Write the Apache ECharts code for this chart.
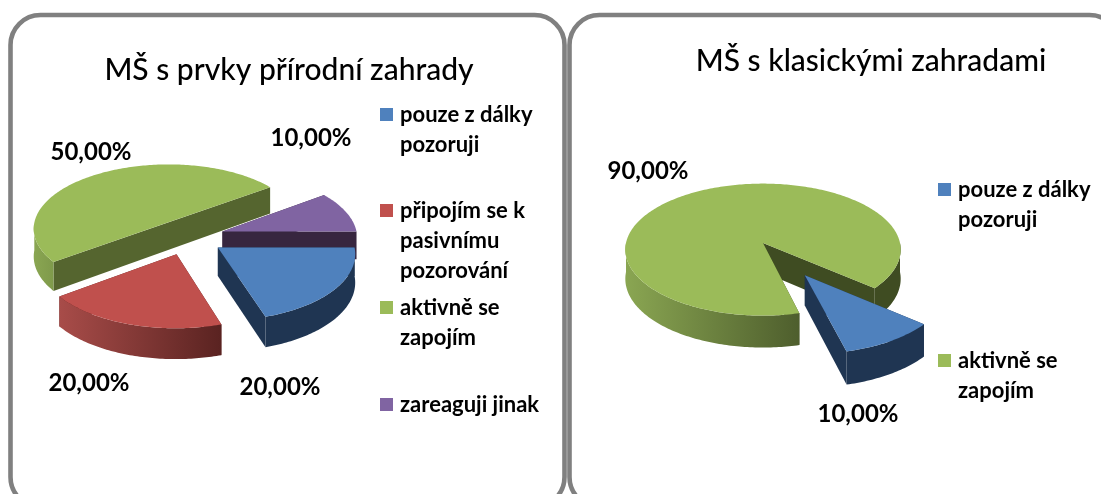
<!DOCTYPE html>
<html>
<head>
<meta charset="utf-8">
<title>MŠ</title>
<style>
  html, body { margin: 0; padding: 0; background: #fff; }
  #chart { width: 1101px; height: 494px; }
</style>
<script src="https://cdn.jsdelivr.net/npm/echarts@6/dist/echarts.min.js"></script>
</head>
<body>
<div id="chart"></div>
<script>
// data
const leftTitle = 'MŠ s prvky přírodní zahrady'
const rightTitle = 'MŠ s klasickými zahradami'
const leftNames = ['pouze z dálky\npozoruji', 'připojím se k\npasivnímu\npozorování', 'aktivně se\nzapojím', 'zareaguji jinak']
const rightNames = ['pouze z dálky\npozoruji', 'aktivně se\nzapojím']
const leftValues = [20, 20, 50, 10]
const rightValues = [10, 90]

// colours per category: top, radial wall, outer wall left end, outer wall right end
const leftColors = [
  ['#4f81bd', '#1f3552', '#1f3552', '#1f3552'],
  ['#c0504d', '#5a2220', '#a84c49', '#5a2321'],
  ['#9bbb59', '#55652f', '#8aa652', '#7f9a4b'],
  ['#8064a2', '#37263f', '#37263f', '#37263f']
]
const rightColors = [
  ['#4f81bd', '#1f3552', '#1f3552', '#1f3552'],
  ['#9bbb59', '#3f4c22', '#8aa652', '#4e5e2d']
]

// layout of the two pies; start is the clockwise angle from 3 o'clock
const leftPie = { cx: 188, cy: 237, rx: 135, ry: 66, depth: 28, start: 0, perspective: 0.08, explode: [0.27, 0.27, 0.27, 0.27], paint: [3, 2, 0, 1],
  labels: [[280, 387], [89, 383], [91, 152], [311, 138]] }
const rightPie = { cx: 763, cy: 243, rx: 137, ry: 66, depth: 29, start: 40, perspective: 0.1, explode: [0.55, 0], paint: [1, 0],
  labels: [[858, 414], [648, 171]] }

const fontFamily = 'Lato, "Noto Sans", sans-serif'
const chart = echarts.init(document.getElementById('chart'))

function pieSeries(pie, values, colors) {
  const total = values.reduce((a, b) => a + b, 0)
  const starts = []
  let run = pie.start
  values.forEach(v => {
    starts.push(run)
    run += v / total * 360
  })

  return {
    type: 'custom',
    coordinateSystem: 'none',
    silent: true,
    data: values.map((v, i) => [v, i]),
    renderItem(params, api) {
      const i = api.value(1)
      const a = starts[i]
      const b = a + api.value(0) / total * 360
      const mid = (a + b) / 2 * Math.PI / 180
      const du = Math.cos(mid) * pie.explode[i]
      const dv = Math.sin(mid) * pie.explode[i]
      const col = colors[i]
      const z = pie.paint[i] * 10

      // ground point -> screen, nearer things a bit bigger
      const project = (u, v, down) => {
        const s = 1 + pie.perspective * v
        return [pie.cx + u * pie.rx * s, pie.cy + v * pie.ry * s + (down ? pie.depth * s : 0)]
      }
      const rim = (deg, down) => {
        const t = deg * Math.PI / 180
        return project(Math.cos(t) + du, Math.sin(t) + dv, down)
      }
      const apex = down => project(du, dv, down)
      const poly = (points, fill, z2) => ({ type: 'polygon', z2, shape: { points }, style: { fill } })

      const children = []
      // radial walls, a half pie gets one straight wall so no seam shows at the apex
      if (Math.abs(b - a - 180) < 0.5) {
        children.push(poly([rim(a, false), rim(b, false), rim(b, true), rim(a, true)], col[1], z + 1))
      } else {
        ;[a, b].forEach(deg => {
          children.push(poly([apex(false), rim(deg, false), rim(deg, true), apex(true)], col[1], z + 1))
        })
      }
      // outer wall, only the parts facing us
      let top = []
      const flush = () => {
        if (top.length > 1) {
          const first = top[0]
          const pts = top.map(d => rim(d, false)).concat(top.slice().reverse().map(d => rim(d, true)))
          const behindNotch = first % 360 < 1 && i === 1 && values.length === 2
          const fill = behindNotch ? col[1] : new echarts.graphic.LinearGradient(0, 0, 1, 0, [
            { offset: 0, color: col[2] },
            { offset: 1, color: col[3] }
          ])
          children.push(poly(pts, fill, z + 2))
        }
        top = []
      }
      for (let d = a; d <= b + 0.01; d += 1) {
        if (Math.sin(d * Math.PI / 180) >= -0.001) top.push(d)
        else flush()
      }
      flush()
      // top face
      const face = [apex(false)]
      for (let d = a; d <= b + 0.01; d += 1) face.push(rim(d, false))
      face.push(rim(b, false))
      children.push(poly(face, col[0], z + 3))
      // value label
      const pct = (api.value(0) / total * 100).toFixed(2).replace('.', ',') + '%'
      children.push({
        type: 'text',
        z2: 100,
        style: {
          text: pct,
          x: pie.labels[i][0],
          y: pie.labels[i][1],
          align: 'center',
          verticalAlign: 'middle',
          fill: '#000',
          font: 'bold 24px ' + fontFamily
        }
      })
      return { type: 'group', children }
    }
  }
}

function legendItems(names, colors, x, tops) {
  const items = []
  names.forEach((name, i) => {
    items.push({ type: 'rect', left: x, top: tops[i], shape: { width: 13, height: 13 }, style: { fill: colors[i][0] } })
    items.push({
      type: 'text',
      left: x + 20,
      top: tops[i] - 8,
      style: { text: name, fill: '#000', font: 'bold 22px ' + fontFamily, lineHeight: 30 }
    })
  })
  return items
}

function panel(x, w) {
  return {
    type: 'rect',
    shape: { x, y: 15, width: w, height: 492, r: 30 },
    style: { fill: 'transparent', stroke: '#808080', lineWidth: 4.6 },
    silent: true
  }
}

chart.setOption({
  backgroundColor: '#fff',
  animation: false,
  title: [
    { text: leftTitle, left: 284, top: 50, textAlign: 'center', textStyle: { fontFamily, fontSize: 30, fontWeight: 500, color: '#000' } },
    { text: rightTitle, left: 866, top: 41, textAlign: 'center', textStyle: { fontFamily, fontSize: 30, fontWeight: 500, color: '#000' } }
  ],
  graphic: [
    panel(10.5, 554),
    panel(569.5, 550),
    ...legendItems(leftNames, leftColors, 380, [108, 204, 301, 398]),
    ...legendItems(rightNames, rightColors, 938, [183, 354])
  ],
  series: [
    pieSeries(leftPie, leftValues, leftColors),
    pieSeries(rightPie, rightValues, rightColors)
  ]
})
</script>
</body>
</html>
